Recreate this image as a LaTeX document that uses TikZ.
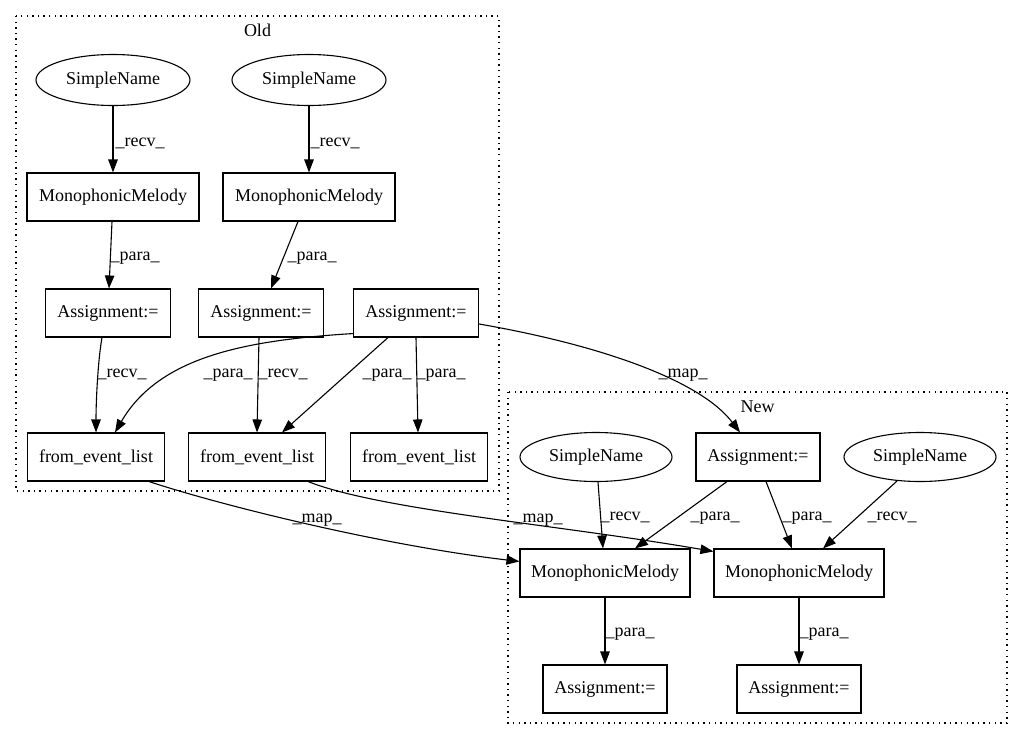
\documentclass[tikz,border=0pt]{standalone}
\usepackage{fontspec}
\setmainfont{Liberation Serif}
\usetikzlibrary{arrows.meta,shapes.geometric}
\begin{document}
\begin{tikzpicture}[x=1pt,y=-1pt,
  every node/.style={font=\fontsize{18}{20}\selectfont, inner sep=0pt},
  box/.style={draw, line width=1.1pt, rectangle, minimum height=48pt},
  mmbox/.style={box, minimum width=172pt},
  asbox/.style={box, minimum width=125pt},
  febox/.style={box, minimum width=137pt},
  sname/.style={draw, line width=1.1pt, ellipse, minimum width=154pt, minimum height=51pt},
  edge/.style={line width=1.1pt, -{Triangle[length=13pt,width=9.5pt]}},
  lbl/.style={anchor=base west},
  cluster/.style={line width=1.3pt, dash pattern=on 1.4pt off 4.2pt},
  ctitle/.style={anchor=base}]
\useasboundingbox (0,0) rectangle (1029,740);
% clusters
\draw[cluster] (16,16) rectangle (499,491);
\node[ctitle] (oldt) at (257.5,36) {Old};
\draw[cluster] (508,392) rectangle (1007,723);
\node[ctitle] (newt) at (757.5,412) {New};
% Old nodes
\node[sname] (sn1) at (113,80) {SimpleName};
\node[sname] (sn2) at (309,80) {SimpleName};
\node[mmbox] (mm1) at (113,197) {MonophonicMelody};
\node[mmbox] (mm2) at (309,197) {MonophonicMelody};
\node[asbox] (a1) at (108,313) {Assignment:=};
\node[asbox] (a2) at (261,313) {Assignment:=};
\node[asbox] (a3) at (416,313) {Assignment:=};
\node[febox] (f1) at (96,457) {from\_event\_list};
\node[febox] (f2) at (257,457) {from\_event\_list};
\node[febox] (f3) at (419,457) {from\_event\_list};
% New nodes
\node[asbox, minimum width=124pt] (a4) at (758,457) {Assignment:=};
\node[sname, minimum width=152pt, minimum height=49pt] (sn3) at (596,457) {SimpleName};
\node[sname, minimum width=152pt, minimum height=49pt] (sn4) at (920,457) {SimpleName};
\node[mmbox, minimum width=170pt] (mm3) at (605,573) {MonophonicMelody};
\node[mmbox, minimum width=170pt] (mm4) at (799,573) {MonophonicMelody};
\node[asbox, minimum width=124pt] (a5) at (605,689) {Assignment:=};
\node[asbox, minimum width=124pt] (a6) at (799,689) {Assignment:=};
% Old edges
\draw[edge] (sn1.south) -- (mm1.north) node[lbl, at={(115,146)}] {\_recv\_};
\draw[edge] (sn2.south) -- (mm2.north) node[lbl, at={(310,146)}] {\_recv\_};
\draw[edge] ([xshift=-1pt]mm1.south) -- ([xshift=1pt]a1.north) node[lbl, at={(110,260)}] {\_para\_};
\draw[edge] ([xshift=-11pt]mm2.south) -- ([xshift=10pt]a2.north) node[lbl, at={(287,260)}] {\_para\_};
\draw[edge] ([xshift=-6pt]a1.south) .. controls (98,360) and (96,400) .. (f1.north) node[lbl, at={(97,377)}] {\_recv\_};
\draw[edge] ([xshift=-2pt]a2.south) -- (f2.north) node[lbl, at={(258,377)}] {\_recv\_};
\draw[edge] ([yshift=4pt]a3.south west) .. controls (250,340) and (160,355) .. ([xshift=19pt]f1.north) node[lbl, at={(203,377)}] {\_para\_};
\draw[edge] ([xshift=-28pt]a3.south) -- ([xshift=25pt]f2.north) node[lbl, at={(362,377)}] {\_para\_};
\draw[edge] (a3.south) -- ([xshift=-1pt]f3.north) node[lbl, at={(416,377)}] {\_para\_};
\draw[edge] ([yshift=-11pt]a3.east) .. controls (600,345) and (700,380) .. ([xshift=-18pt]a4.north) node[lbl, at={(658,377)}] {\_map\_};
% cross edges
\draw[edge] ([xshift=-16pt]f1.south east) .. controls (220,505) and (380,545) .. ([yshift=-13pt]mm3.north west) node[lbl, at={(292,522)}] {\_map\_};
\draw[edge] ([xshift=-18pt]f2.south east) .. controls (380,510) and (560,525) .. ([yshift=-3pt]mm4.north west) node[lbl, at={(513,522)}] {\_map\_};
% New edges
\draw[edge] ([xshift=2pt]sn3.south) -- ([xshift=-2pt]mm3.north) node[lbl, at={(600,520)}] {\_recv\_};
\draw[edge] ([xshift=-31pt]a4.south) -- ([xshift=30pt]mm3.north) node[lbl, at={(690,520)}] {\_para\_};
\draw[edge] ([xshift=8pt]a4.south) -- ([xshift=-7pt]mm4.north) node[lbl, at={(782,520)}] {\_para\_};
\draw[edge] ([xshift=-23pt,yshift=1pt]sn4.south) -- ([xshift=24pt]mm4.north) node[lbl, at={(867,520)}] {\_recv\_};
\draw[edge] (mm3.south) -- (a5.north) node[lbl, at={(605,636)}] {\_para\_};
\draw[edge] (mm4.south) -- (a6.north) node[lbl, at={(799,636)}] {\_para\_};
\end{tikzpicture}
\end{document}
